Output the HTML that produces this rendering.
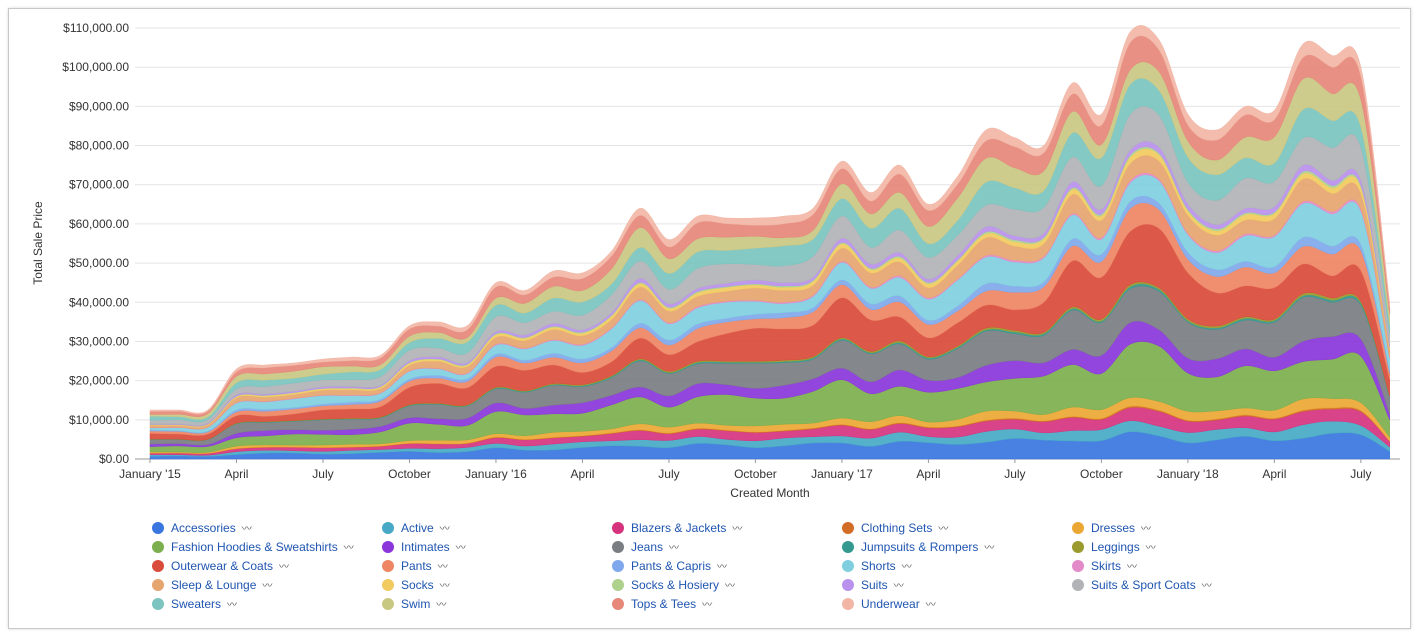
<!DOCTYPE html>
<html><head><meta charset="utf-8">
<style>
html,body{margin:0;padding:0;background:#fff;}
body{width:1419px;height:636px;position:relative;overflow:hidden;font-family:"Liberation Sans",Arial,sans-serif;}
#frame{position:absolute;left:8px;top:8px;width:1401px;height:619px;border:1px solid #c8c8c8;box-shadow:0 0 3px rgba(0,0,0,0.15);}
#wrap{position:absolute;left:0;top:0;width:1419px;height:636px;}
.leg{position:absolute;font-size:12px;color:#1f55b0;white-space:nowrap;}
.leg .d{display:inline-block;width:12px;height:12px;border-radius:50%;vertical-align:-2px;margin-right:7px;}
.leg .t{color:#555;font-size:10px;margin-left:6px;}
</style></head><body>
<div id="frame"></div>
<div id="wrap"></div>
<div id="legend"></div>
<script>
(function(){
var names=["Accessories","Active","Blazers &amp; Jackets","Clothing Sets","Dresses","Fashion Hoodies &amp; Sweatshirts","Intimates","Jeans","Jumpsuits &amp; Rompers","Leggings","Outerwear &amp; Coats","Pants","Pants &amp; Capris","Shorts","Skirts","Sleep &amp; Lounge","Socks","Socks &amp; Hosiery","Suits","Suits &amp; Sport Coats","Sweaters","Swim","Tops &amp; Tees","Underwear"];
var cols=["#3a76e0","#47a9c6","#d6337f","#d26c27","#eba733","#7caf4e","#8a36db","#7a7e83","#33988e","#9a9a2e","#d94b3b","#ee8664","#7fa8ec","#80cfdf","#e38ac8","#e6a56f","#f2cb60","#aed28e","#b990eb","#b1b3b6","#7bc4c0","#c9c882","#e6877a","#f2b6a5"];
var share=[6,3,3.5,.3,2.5,12,5,10,.5,.5,11,5,2,7,.5,5,1.5,.5,1.5,8,7,6,6,3];
var season=[0,0,0,0,0,.1,0,0,0,0,.35,0,0,-.3,0,0,0,0,0,0,.1,-.3,0,0];
var tot=[12.5,12.5,12.5,23,24,24.5,25.5,26,26.5,34,35,34,45,43,48,47.5,53,64,56,62,61.5,61.5,62,64,76,68,75,65,72,84,82,80,96,88,109,107,88,84,90,89,106,103,100,40];
var h='';
function X(i){return 150+i*28.83;}
function Y(v){return 459-v*3.918;}
var ylab=["$0.00","$10,000.00","$20,000.00","$30,000.00","$40,000.00","$50,000.00","$60,000.00","$70,000.00","$80,000.00","$90,000.00","$100,000.00","$110,000.00"];
for(var k=0;k<=11;k++){var y=Y(k*10);h+='<line x1="135" x2="1400" y1="'+y+'" y2="'+y+'" stroke="'+(k==0?'#999':'#e4e4e4')+'" stroke-width="1"/>';
h+='<text x="129" y="'+(y+4)+'" font-size="12" fill="#333" text-anchor="end">'+ylab[k]+'</text>';}
var n=tot.length,layers=[];
for(var j=0;j<24;j++){var top=[];for(var i=0;i<n;i++){var m=i%12;var f=1+season[j]*Math.cos(2*Math.PI*(m-10.5)/12)+0.15*Math.sin(i*1.7+j*2.3);top.push(f*share[j]);}layers.push(top);}
for(var i=0;i<n;i++){var sm=0;for(var j=0;j<24;j++)sm+=layers[j][i];for(var j=0;j<24;j++)layers[j][i]=layers[j][i]/sm*tot[i];}
function curve(pts){var d='';for(var i=0;i<pts.length-1;i++){var p0=pts[Math.max(i-1,0)],p1=pts[i],p2=pts[i+1],p3=pts[Math.min(i+2,pts.length-1)];
var c1x=p1[0]+(p2[0]-p0[0])/6,c1y=p1[1]+(p2[1]-p0[1])/6,c2x=p2[0]-(p3[0]-p1[0])/6,c2y=p2[1]-(p3[1]-p1[1])/6;
d+=' C'+c1x.toFixed(1)+','+c1y.toFixed(1)+' '+c2x.toFixed(1)+','+c2y.toFixed(1)+' '+p2[0].toFixed(1)+','+p2[1].toFixed(1);}return d;}
var base=[];for(var i=0;i<n;i++)base.push(0);
for(var j=0;j<24;j++){var lo=[],hi=[];for(var i=0;i<n;i++){lo.push([X(i),Y(base[i])]);base[i]+=layers[j][i];hi.push([X(i),Y(base[i])]);}
var rl=lo.slice().reverse();
var d='M'+hi[0][0]+','+hi[0][1]+curve(hi)+' L'+rl[0][0]+','+rl[0][1]+curve(rl)+' Z';
h+='<path d="'+d+'" fill="'+cols[j]+'" fill-opacity="0.92" stroke="'+cols[j]+'" stroke-width="0.5"/>';}
var xl=["January '15","April","July","October","January '16","April","July","October","January '17","April","July","October","January '18","April","July"];
for(var k=0;k<xl.length;k++){var x=X(k*3);h+='<line x1="'+x+'" x2="'+x+'" y1="459" y2="463" stroke="#999"/><text x="'+x+'" y="478" font-size="12" fill="#333" text-anchor="middle">'+xl[k]+'</text>';}
h+='<text x="770" y="497" font-size="12" fill="#333" text-anchor="middle">Created Month</text>';
h+='<text transform="translate(42,243) rotate(-90)" font-size="12" fill="#333" text-anchor="middle">Total Sale Price</text>';
document.getElementById('wrap').innerHTML='<svg width="1419" height="636" xmlns="http://www.w3.org/2000/svg" style="font-family:Liberation Sans,Arial,sans-serif">'+h+'</svg>';
var L='';for(var j=0;j<24;j++){var c=j%5,r=Math.floor(j/5);
L+='<div class="leg" style="left:'+(152+c*230)+'px;top:'+(520+r*19)+'px"><span class="d" style="background:'+cols[j]+'"></span>'+names[j]+'<span class="t">&#12336;</span></div>';}
document.getElementById('legend').innerHTML=L;
})();
</script>
</body></html>
